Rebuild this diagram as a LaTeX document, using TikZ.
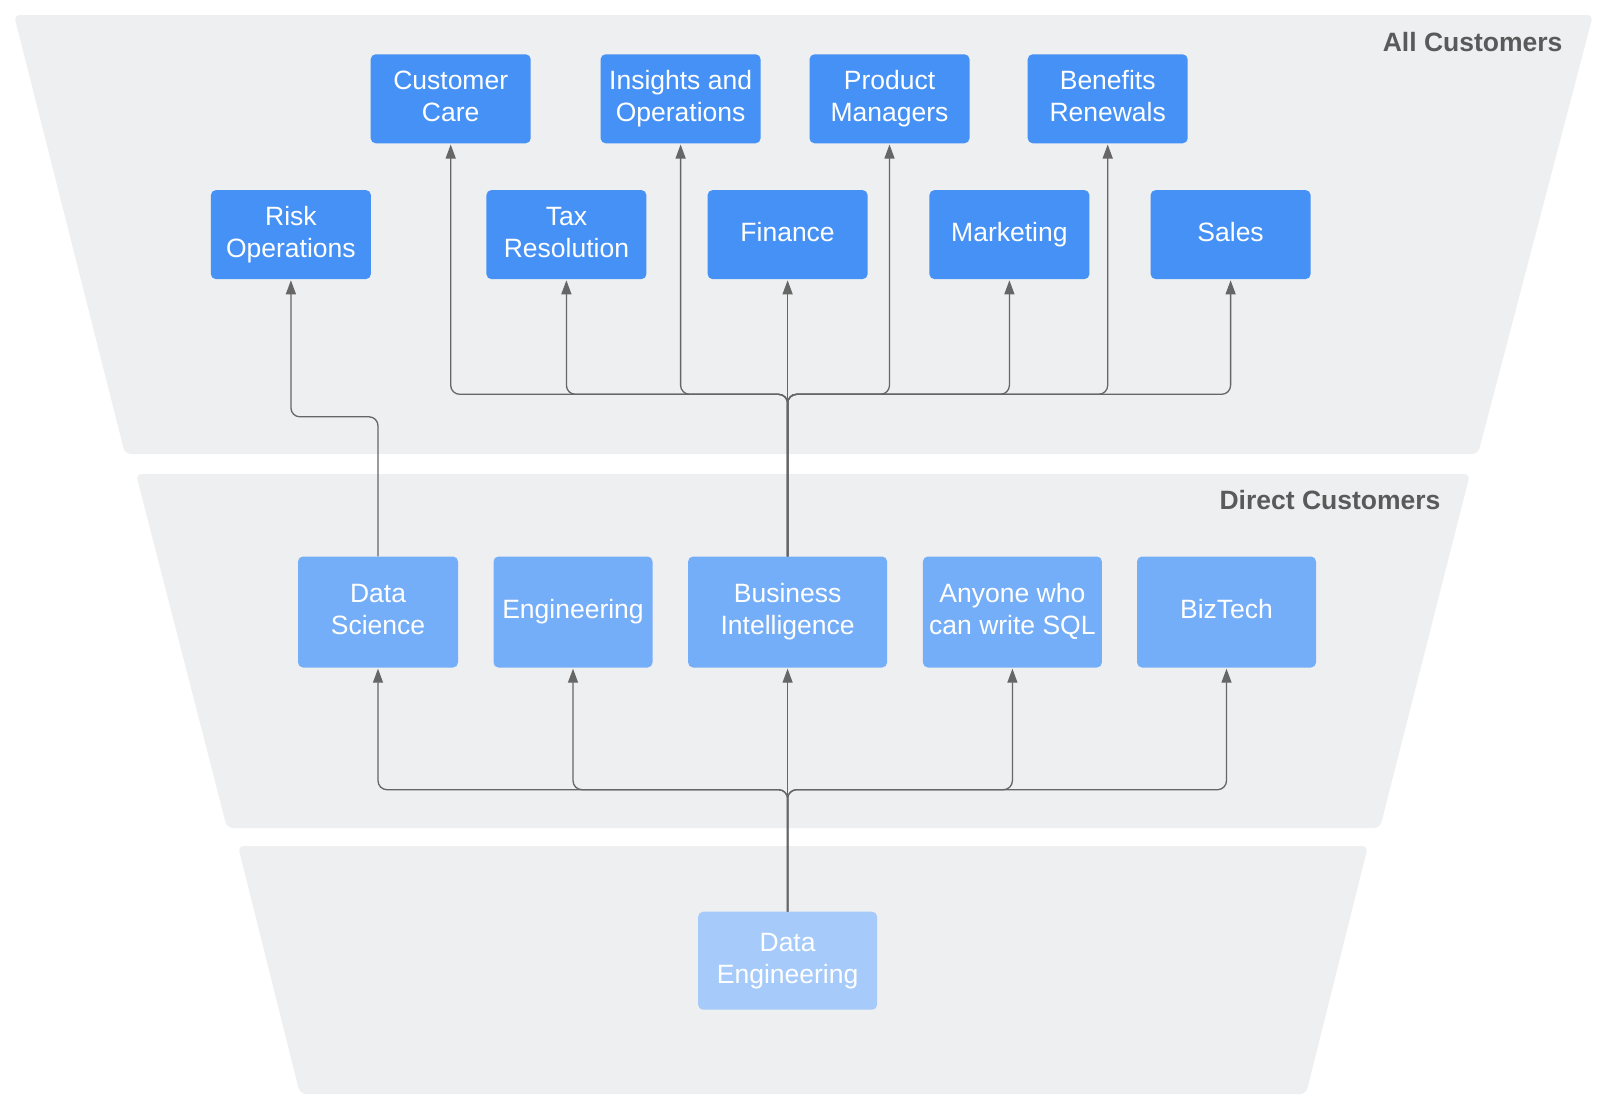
\documentclass[tikz,border=0pt]{standalone}
\usepackage{fontspec}
\setmainfont{Liberation Sans}
\usetikzlibrary{arrows.meta}
\definecolor{bandfill}{HTML}{EEEFF0}
\definecolor{topblue}{HTML}{4591F5}
\definecolor{midblue}{HTML}{75AEF8}
\definecolor{lowblue}{HTML}{A6CBFA}
\definecolor{wire}{HTML}{666666}
\definecolor{bandlabel}{HTML}{5A5A5A}
% centred lines with strut-sized rows, so every box label sits alike
\newcommand\cellstack[1]{\begin{tabular}{@{}c@{}}#1\end{tabular}}
\tikzset{
  box/.style={rectangle, rounded corners=5pt, text=white, inner sep=0pt,
    font=\fontsize{26.5}{32}\selectfont},
  topbox/.style={box, fill=topblue, minimum width=160pt, minimum height=89pt},
  midbox/.style={box, fill=midblue, minimum height=111pt},
  lowbox/.style={box, fill=lowblue, minimum width=179pt, minimum height=98pt},
  link/.style={draw=wire, line width=1.3pt, rounded corners=9pt, shorten >=1pt,
    -{Triangle[length=14pt,width=10pt]}},
  band/.style={fill=bandfill, rounded corners=6pt},
  bandtitle/.style={anchor=east, text=bandlabel,
    font=\bfseries\fontsize{26.5}{30}\selectfont}
}
\begin{document}
\begin{tikzpicture}[x=1pt, y=-1pt]
  \useasboundingbox (0,0) rectangle (1606,1101);

  % funnel bands
  \fill[band] (14,15) -- (1593,15) -- (1478,454) -- (125,454) -- cycle;
  \fill[band] (136,474) -- (1470,474) -- (1380,828) -- (227,828) -- cycle;
  \fill[band] (238,846) -- (1368,846) -- (1306,1094) -- (300,1094) -- cycle;

  \node[bandtitle] (allcust) at (1566,42) {All Customers};
  \node[bandtitle] (directcust) at (1444,500) {Direct Customers};

  % all customers, upper row
  \node[topbox] (care)     at (450.7,98.8)  {\cellstack{Customer\\Care}};
  \node[topbox] (insights) at (680.6,98.8)  {\cellstack{Insights and\\Operations}};
  \node[topbox] (pm)       at (889.5,98.8)  {\cellstack{Product\\Managers}};
  \node[topbox] (benefits) at (1107.7,98.8) {\cellstack{Benefits\\Renewals}};

  % all customers, lower row
  \node[topbox] (risk)  at (290.9,234.6)  {\cellstack{Risk\\Operations}};
  \node[topbox] (tax)   at (566.4,234.6)  {\cellstack{Tax\\Resolution}};
  \node[topbox] (fin)   at (787.6,234.6)  {\cellstack{Finance}};
  \node[topbox] (mkt)   at (1009.4,234.6) {\cellstack{Marketing}};
  \node[topbox] (sales) at (1230.6,234.6) {\cellstack{Sales}};

  % direct customers
  \node[midbox, minimum width=160pt] (ds)  at (378,612)    {\cellstack{Data\\Science}};
  \node[midbox, minimum width=159pt] (eng) at (573,612)    {\cellstack{Engineering}};
  \node[midbox, minimum width=199pt] (bi)  at (787.6,612)  {\cellstack{Business\\Intelligence}};
  \node[midbox, minimum width=179pt] (sql) at (1012.4,612) {\cellstack{Anyone who\\can write SQL}};
  \node[midbox, minimum width=179pt] (biz) at (1226.5,612) {\cellstack{BizTech}};

  % source
  \node[lowbox] (de) at (787.6,960.7) {\cellstack{Data\\Engineering}};

  % bus lines
  \coordinate (topbus) at (787.6,394.3);
  \coordinate (riskbus) at (378,416.8);
  \coordinate (lowbus) at (787.6,789.7);

  % business intelligence feeds all customers
  \draw[link] (bi.north) -- (bi.north |- topbus) -| (care.south);
  \draw[link] (bi.north) -- (bi.north |- topbus) -| (tax.south);
  \draw[link] (bi.north) -- (bi.north |- topbus) -| (insights.south);
  \draw[link] (bi.north) -- (fin.south);
  \draw[link] (bi.north) -- (bi.north |- topbus) -| (pm.south);
  \draw[link] (bi.north) -- (bi.north |- topbus) -| (mkt.south);
  \draw[link] (bi.north) -- (bi.north |- topbus) -| (benefits.south);
  \draw[link] (bi.north) -- (bi.north |- topbus) -| (sales.south);

  % data science feeds risk operations
  \draw[link] (ds.north) -- (ds.north |- riskbus) -| (risk.south);

  % data engineering feeds direct customers
  \draw[link] (de.north) -- (de.north |- lowbus) -| (ds.south);
  \draw[link] (de.north) -- (de.north |- lowbus) -| (eng.south);
  \draw[link] (de.north) -- (bi.south);
  \draw[link] (de.north) -- (de.north |- lowbus) -| (sql.south);
  \draw[link] (de.north) -- (de.north |- lowbus) -| (biz.south);
\end{tikzpicture}
\end{document}
